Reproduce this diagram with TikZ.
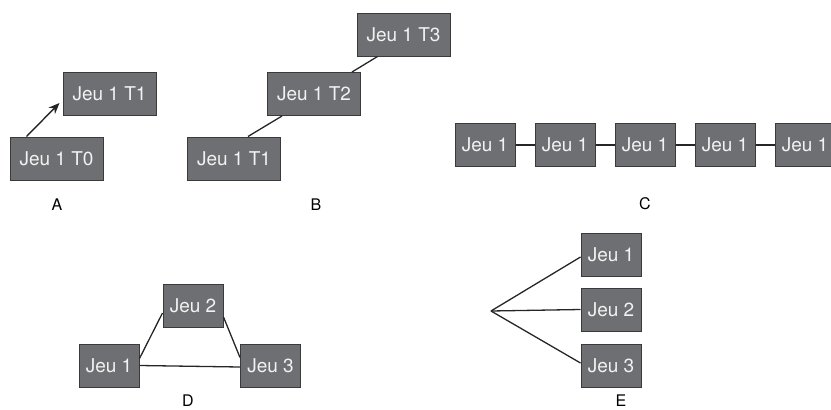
\documentclass[tikz,border=0pt]{standalone}
\usepackage{fontspec}
\setmainfont{TeX Gyre Heros}
\usetikzlibrary{calc,arrows.meta}
\definecolor{boxfill}{HTML}{6E6F72}
\definecolor{boxline}{HTML}{3A3A3A}
\definecolor{boxtext}{HTML}{F2F2F2}
\tikzset{
  box/.style={draw=boxline,fill=boxfill,line width=1pt,text=boxtext,
    font=\fontsize{19}{22}\selectfont,inner sep=0pt,minimum height=43pt},
  wide/.style={box,minimum width=93pt},
  narrow/.style={box,minimum width=60pt},
  lbl/.style={font=\fontsize{16}{18}\selectfont,text=black,inner sep=0pt},
  link/.style={draw=black!85,line width=1.3pt},
}
\begin{document}
\begin{tikzpicture}[x=1pt,y=-1pt]
\useasboundingbox (0,0) rectangle (831,410);
% A
\node[wide] (a1) at (109.5,93.5) {Jeu 1 T1};
\node[wide] (a0) at (56.5,158.5) {Jeu 1 T0};
\node[lbl] (la) at (57,205) {A};
\draw[link,line width=1.4pt,-{Stealth[length=11pt,width=9pt]}] ($(a0.north west)+(17,0)$) -- ($(a1.west)+(-3,9.5)$);
% B
\node[wide] (b3) at (403.5,34.5) {Jeu 1 T3};
\node[wide] (b2) at (314,94) {Jeu 1 T2};
\node[wide] (b1) at (234,158.5) {Jeu 1 T1};
\node[lbl] (lb) at (316,205) {B};
\draw[link] ($(b1.north west)+(61,0)$) -- ($(b2.south west)+(15,0)$);
\draw[link] ($(b2.north east)+(-9,0)$) -- ($(b3.south west)+(21,0)$);
% C
\node[narrow] (c1) at (485,145) {Jeu 1};
\node[narrow] (c2) at (565,145) {Jeu 1};
\node[narrow] (c3) at (645,145) {Jeu 1};
\node[narrow] (c4) at (725,145) {Jeu 1};
\node[narrow] (c5) at (805,145) {Jeu 1};
\node[lbl] (lc) at (645,204) {C};
\draw[link] (c1) -- (c2);
\draw[link] (c2) -- (c3);
\draw[link] (c3) -- (c4);
\draw[link] (c4) -- (c5);
% D
\node[narrow] (d2) at (193,306) {Jeu 2};
\node[narrow] (d1) at (109,365.5) {Jeu 1};
\node[narrow] (d3) at (270.5,365.5) {Jeu 3};
\node[lbl] (ld) at (188,400.5) {D};
\draw[link] ($(d1.east)+(0,-7)$) -- ($(d2.west)+(0,7)$);
\draw[link] ($(d2.east)+(0,11)$) -- ($(d3.west)+(0,-8)$);
\draw[link] (d1.east) -- ($(d3.west)+(0,1.5)$);
% E
\node[narrow] (e1) at (611,255) {Jeu 1};
\node[narrow] (e2) at (611,309.5) {Jeu 2};
\node[narrow] (e3) at (611,366) {Jeu 3};
\node[lbl] (le) at (621,400.5) {E};
\coordinate (ea) at (491,311);
\draw[link] (ea) -- ($(e1.west)+(0,2)$);
\draw[link] (ea) -- (e2.west);
\draw[link] (ea) -- ($(e3.west)+(0,-3)$);
\end{tikzpicture}
\end{document}
